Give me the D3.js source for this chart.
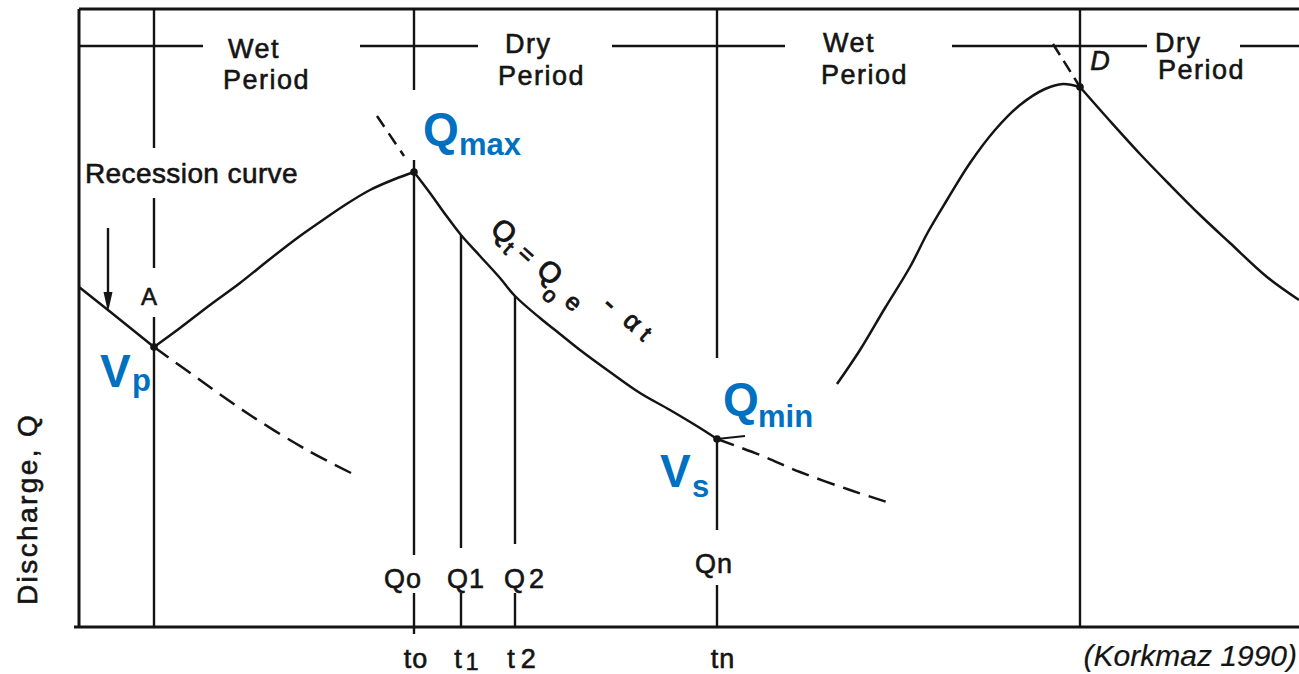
<!DOCTYPE html>
<html><head><meta charset="utf-8">
<script src="https://cdn.jsdelivr.net/npm/d3@7"></script>
<style>body{margin:0;background:#fff;} svg{display:block;}</style>
</head><body>
<svg id="c" width="1299" height="674"></svg>
<script>
// ---- data: time t (arbitrary units from origin) and discharge Q ----
const recession1Solid  = [[0,340],[29,317],[75,280]];
const recession1Dashed = [[75,280],[121,247],[171,212],[228,177],[274,153]];
const wetRise1 = [[75,280],[101,299],[131,322],[161,344],[191,368],[221,391],[241,405],[266,422],[291,437],[316,448],[335,455]];
const recession2Solid = [[335,455],[351,434],[366,413],[382,392],[401,371],[421,349],[436,331],[461,309],[481,293],[501,277],[531,255],[561,234],[591,217],[621,199],[638,188]];
const recession2Dashed = [[638,188],[681,172],[721,155],[771,137],[811,124]];
const recession2Back = [[298,511],[325,471]];
const wetRise2 = [[758,243],[781,277],[806,319],[831,360],[849,395],[868,427],[891,464],[916,497],[941,522],[966,538],[984,543],[1001,540]];
const recession3 = [[1001,540],[1031,506],[1061,473],[1091,442],[1121,412],[1151,384],[1188,350],[1220,327]];
const recession3Back = [[974,583],[1001,540]];
const keyPoints = [[75,280],[335,455],[638,188],[1001,540]];
const pointNames = ["A","Qmax","Qmin","D"];
// vertical reference lines (t, list of [Qtop,Qbottom] visible pieces)
const verticals = [
  {t:75,   segs:[[618,479],[429,359],[310,0]]},
  {t:335,  segs:[[618,537],[467,72],[34,-7]]},
  {t:382,  segs:[[392,79],[34,0]]},
  {t:436,  segs:[[331,83],[34,0]]},
  {t:638,  segs:[[618,269],[187,97],[42,0]]},
  {t:1001, segs:[[618,0]]}
];
const periodNames = ["Wet","Dry","Wet","Dry"];
const periodLineQ = 581;
const periodLineSegs = [[0,124],[281,399],[533,706],[873,1068],[1161,1220]];
const dischargeLabels = ["Qo","Q1","Q2","Qn"];
const timeLabels = ["to","t","t","tn"];
const timeSubs = ["","1","2",""];

// ---- scales ----
const x = d3.scaleLinear().domain([0,1220]).range([79,1299]);
const y = d3.scaleLinear().domain([0,618]).range([627,9]);
const svg = d3.select("#c");
const ink = "#141414";
const blue = "#0070C0";
const line = d3.line().x(d=>x(d[0])).y(d=>y(d[1])).curve(d3.curveCatmullRom.alpha(0.5));
const straight = d3.line().x(d=>x(d[0])).y(d=>y(d[1]));

// frame
svg.append("line").attr("x1",x(0)).attr("x2",x(1220)).attr("y1",y(618)).attr("y2",y(618)).attr("stroke",ink).attr("stroke-width",3);
svg.append("line").attr("x1",x(0)).attr("x2",x(0)).attr("y1",y(618)).attr("y2",y(0)).attr("stroke",ink).attr("stroke-width",3);
svg.append("line").attr("x1",x(-5)).attr("x2",x(1220)).attr("y1",y(0)).attr("y2",y(0)).attr("stroke",ink).attr("stroke-width",3);

// period header line
periodLineSegs.forEach(s=>{
  svg.append("line").attr("x1",x(s[0])).attr("x2",x(s[1])).attr("y1",y(periodLineQ)).attr("y2",y(periodLineQ))
    .attr("stroke",ink).attr("stroke-width",2.5);
});

// vertical lines
verticals.forEach(v=>{
  v.segs.forEach(s=>{
    svg.append("line").attr("x1",x(v.t)).attr("x2",x(v.t)).attr("y1",y(s[0])).attr("y2",y(s[1]))
      .attr("stroke",ink).attr("stroke-width",2.4);
  });
});

// curves
function path(data, dash, gen){
  svg.append("path").attr("d",(gen||line)(data)).attr("fill","none").attr("stroke",ink)
    .attr("stroke-width",2.5).attr("stroke-dasharray",dash||null);
}
path(recession1Solid, null, straight);
path(recession1Dashed, "18,9");
path(wetRise1);
path(recession2Solid);
path(recession2Dashed, "18,9");
path(recession2Back, "13,8", straight);
path(wetRise2);
path(recession3);
path(recession3Back, "13,7", straight);

// small tick at Qmin
svg.append("line").attr("x1",x(638)).attr("y1",y(188)).attr("x2",x(666)).attr("y2",y(191)).attr("stroke",ink).attr("stroke-width",2.2);

// key points
svg.selectAll("circle.kp").data(keyPoints).enter().append("circle")
  .attr("cx",d=>x(d[0])).attr("cy",d=>y(d[1])).attr("r",3.8).attr("fill",ink);

// recession arrow
const ax = x(29);
svg.append("line").attr("x1",ax).attr("x2",ax).attr("y1",y(399)).attr("y2",y(330)).attr("stroke",ink).attr("stroke-width",2.4);
svg.append("path").attr("d",`M${ax-4.5},${y(335)} L${ax+4.5},${y(335)} L${ax},${y(315)} Z`).attr("fill",ink);

// ---- text ----
const font = "'Liberation Sans', Arial, sans-serif";
function txt(s, px, py, size, opts){
  opts = opts||{};
  const t = svg.append("text").attr("x",px).attr("y",py).text(s)
    .attr("font-family",font).attr("font-size",size).attr("fill",opts.fill||ink)
    .attr("font-weight",opts.weight||"normal").attr("font-style",opts.style||"normal")
    .attr("letter-spacing",opts.ls||0).attr("text-anchor",opts.anchor||"start");
  if (!opts.fill) t.attr("stroke",ink).attr("stroke-width",0.6);
  return t;
}
const periodPos = [[228,58,223,89],[505,53,498,85],[823,52,821,84],[1155,52,1158,79]];
periodNames.forEach((n,i)=>{
  const p = periodPos[i];
  txt(n, p[0], p[1], 27, {ls:1.5});
  txt("Period", p[2], p[3], 27, {ls:1.5});
});
txt("Recession curve", 85, 183, 28, {ls:0.4});
txt("A", 149, 305, 24, {anchor:"middle"});
txt("D", 1100, 70, 27, {anchor:"middle", style:"italic"});

// bottom labels
const tickT = [verticals[1].t, verticals[2].t, verticals[3].t, verticals[4].t];
const qLabelOffsets = [-11, 5, 11, -3];
const qLabelBase = [588, 588, 588, 573];
dischargeLabels.forEach((l,i)=>{
  txt(l, x(tickT[i])+qLabelOffsets[i], qLabelBase[i], 27, {anchor:"middle", ls:(i===2?4:1)});
});
const tOffsets = [2, 6, 7, 6];
timeLabels.forEach((l,i)=>{
  const t = txt(l, x(tickT[i])+tOffsets[i], 668, 27, {anchor:"middle", ls:1});
  if (timeSubs[i]) {
    t.append("tspan").text(timeSubs[i]).attr("dx", i===2?5:3).attr("dy", i===1?2:0).attr("font-size", i===1?23:27);
  }
});

// y-axis title
svg.append("text").attr("transform","translate(37,605) rotate(-90)").text("Discharge, Q")
  .attr("font-family",font).attr("font-size",28).attr("letter-spacing",2.4).attr("fill",ink)
  .attr("stroke",ink).attr("stroke-width",0.6);

// equation along recession curve
const eq = [
  ["Q",504,231,29],["t",509,248,21],["=",527,254,24],["Q",550,272,29],["o",550,295,22],
  ["e",574,302,24],["-",611,303,30],["α",633,321,26],["t",646,334,23]
];
eq.forEach(g=>{
  svg.append("text").attr("x",g[1]).attr("y",g[2]).text(g[0])
    .attr("font-family",font).attr("font-size",g[3]).attr("fill",ink)
    .attr("stroke",ink).attr("stroke-width",0.9)
    .attr("text-anchor","middle").attr("dominant-baseline","central")
    .attr("transform",`rotate(42,${g[1]},${g[2]})`);
});

// blue labels
function blueLabel(main, sub, px, py, sx, sy){
  txt(main, px, py, 46, {fill:blue, weight:"bold"});
  txt(sub, sx, sy, 31, {fill:blue, weight:"bold"});
}
blueLabel("Q","max", 423, 145, 459, 155);
blueLabel("Q","min", 723, 415, 758, 427);
blueLabel("V","p", 100, 387, 132, 391);
blueLabel("V","s", 660, 487, 692, 497);

// citation
txt("(Korkmaz 1990)", 1297, 666, 30, {anchor:"end", style:"italic"}).attr("stroke-width",0.2);
</script>
</body></html>
